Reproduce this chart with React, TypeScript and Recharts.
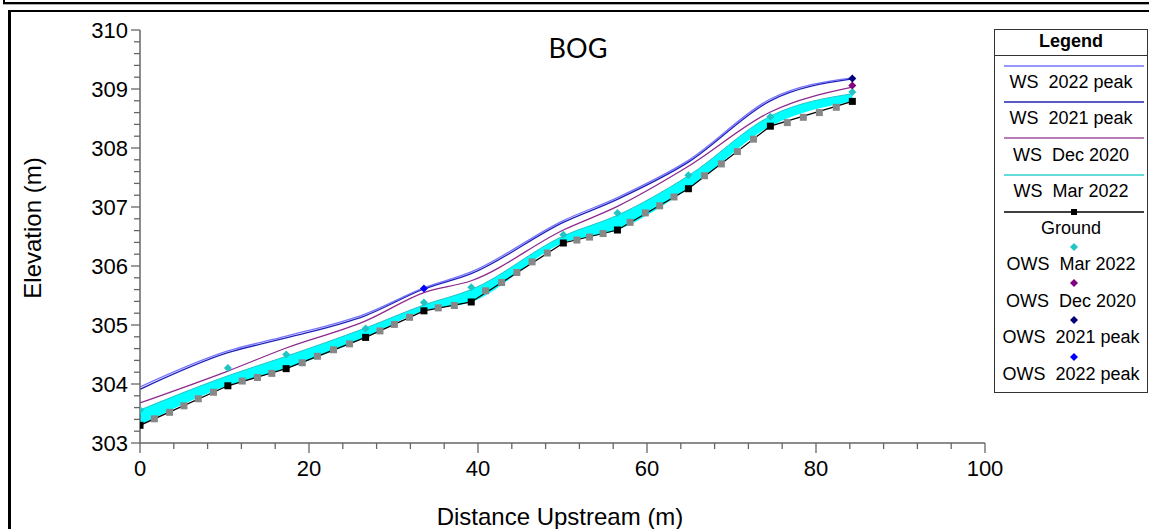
import React from "react";
import { ComposedChart, XAxis, YAxis, Area, Line, Scatter } from "recharts";

// main cross sections (distance upstream, m)
const distance = [0, 10.4, 17.3, 26.7, 33.6, 39.2, 50.1, 56.5, 64.9, 74.6, 84.3];
const ground = [303.3, 303.97, 304.26, 304.79, 305.24, 305.39, 306.39, 306.61, 307.31, 308.37, 308.79];
const wsMar2022 = [303.56, 304.14, 304.47, 304.95, 305.34, 305.6, 306.51, 306.86, 307.53, 308.54, 308.92];
const wsDec2020 = [303.68, 304.22, 304.61, 305.07, 305.55, 305.75, 306.61, 307.01, 307.69, 308.61, 309.03];
const ws2021Peak = [303.91, 304.53, 304.78, 305.16, 305.61, 305.87, 306.74, 307.13, 307.76, 308.8, 309.17];
const ws2022Peak = [303.95, 304.56, 304.81, 305.19, 305.63, 305.9, 306.77, 307.16, 307.79, 308.83, 309.19];

// interpolated sections (grey squares on the ground line)
const interpDistance = [
  1.7, 3.5, 5.2, 6.9, 8.7, 12.1, 13.9, 15.6, 19.2, 21.0, 22.9, 24.8, 28.4, 30.1, 31.9, 35.3, 37.2,
  40.9, 42.8, 44.6, 46.4, 48.2, 51.7, 53.2, 54.8, 58.0, 59.8, 61.5, 63.2, 66.8, 68.8, 70.7, 72.6,
  76.6, 78.5, 80.4, 82.4,
];
const interpGround = [
  303.41, 303.52, 303.63, 303.75, 303.86, 304.05, 304.11, 304.18, 304.36, 304.47, 304.58, 304.68,
  304.9, 305.01, 305.13, 305.29, 305.33, 305.58, 305.72, 305.89, 306.07, 306.22, 306.44, 306.49,
  306.55, 306.74, 306.9, 307.02, 307.17, 307.53, 307.73, 307.94, 308.15, 308.43, 308.52, 308.6,
  308.69,
];

// observed water surface
const owsMarDist = [0, 10.4, 17.3, 26.7, 33.6, 39.2, 50.1, 56.5, 64.9, 74.6, 84.3];
const owsMarElev = [303.56, 304.27, 304.5, 304.94, 305.38, 305.64, 306.53, 306.9, 307.54, 308.53, 308.95];
const owsDecDist = [84.3];
const owsDecElev = [309.06];
const ows2021Dist = [84.3];
const ows2021Elev = [309.18];
const ows2022Dist = [33.6];
const ows2022Elev = [305.62];

const yTicks = [
  303, 303.2, 303.4, 303.6, 303.8, 304, 304.2, 304.4, 304.6, 304.8, 305, 305.2, 305.4, 305.6,
  305.8, 306, 306.2, 306.4, 306.6, 306.8, 307, 307.2, 307.4, 307.6, 307.8, 308, 308.2, 308.4,
  308.6, 308.8, 309, 309.2, 309.4, 309.6, 309.8, 310,
];
const xTicks = [0, 4, 8, 12, 16, 20, 24, 28, 32, 36, 40, 44, 48, 52, 56, 60, 64, 68, 72, 76, 80, 84, 88, 92, 96, 100];

const sections = distance.map((d, i) => ({
  d,
  ground: ground[i],
  band: [ground[i], wsMar2022[i]],
  wsMar: wsMar2022[i],
  wsDec: wsDec2020[i],
  ws2021: ws2021Peak[i],
  ws2022: ws2022Peak[i],
}));
const toPoints = (ds: number[], es: number[]) => ds.map((d, i) => ({ d, e: es[i] }));

const AXIS = "#666666";
const FONT = "'Liberation Sans', Arial, sans-serif";
const C = {
  band: "#00ffff",
  mar: "#22c4c4",
  dec: "#8e2a8e",
  p2021: "#2222b8",
  p2022: "#7474ff",
  owsDec: "#800080",
  ows2021: "#000080",
  ows2022: "#0000ff",
  interp: "#888888",
};

const YTick = (props: any) => {
  const { x, y, payload } = props;
  const major = Math.abs(payload.value - Math.round(payload.value)) < 1e-6;
  return (
    <g>
      <line x1={x - (major ? 9 : 6)} x2={x} y1={y} y2={y} stroke={AXIS} strokeWidth={1.3} />
      {major && (
        <text x={x - 12} y={y} dy="0.36em" textAnchor="end" fontSize={22} fontFamily={FONT} fill="#000">
          {Math.round(payload.value)}
        </text>
      )}
    </g>
  );
};

const XTick = (props: any) => {
  const { x, y, payload } = props;
  const major = payload.value % 20 === 0;
  return (
    <g>
      <line x1={x} x2={x} y1={y} y2={y + (major ? 10 : 6)} stroke={AXIS} strokeWidth={1.3} />
      {major && (
        <text x={x} y={y + 25} dy="0.36em" textAnchor="middle" fontSize={22} fontFamily={FONT} fill="#000">
          {payload.value}
        </text>
      )}
    </g>
  );
};

const diamond = (fill: string) => (p: any) => (
  <polygon
    points={`${p.cx},${p.cy - 4} ${p.cx + 4},${p.cy} ${p.cx},${p.cy + 4} ${p.cx - 4},${p.cy}`}
    fill={fill}
  />
);
const greySquare = (p: any) => <rect x={p.cx - 3.5} y={p.cy - 3.5} width={7} height={7} fill={C.interp} />;
const groundDot = (p: any) => (
  <rect key={`g${p.index}`} x={p.cx - 3.5} y={p.cy - 3.5} width={7} height={7} fill="#000" />
);

const legendRows = [
  { kind: "line", color: C.p2022, y: 66, label: "WS  2022 peak", ty: 82 },
  { kind: "line", color: C.p2021, y: 102, label: "WS  2021 peak", ty: 118 },
  { kind: "line", color: "#a050a0", y: 138, label: "WS  Dec 2020", ty: 155 },
  { kind: "line", color: "#30d0d0", y: 175, label: "WS  Mar 2022", ty: 191 },
  { kind: "ground", color: "#000", y: 212, label: "Ground", ty: 228 },
  { kind: "dia", color: C.mar, y: 247, label: "OWS  Mar 2022", ty: 264 },
  { kind: "dia", color: C.owsDec, y: 283, label: "OWS  Dec 2020", ty: 301 },
  { kind: "dia", color: C.ows2021, y: 320, label: "OWS  2021 peak", ty: 337 },
  { kind: "dia", color: C.ows2022, y: 357, label: "OWS  2022 peak", ty: 374 },
];

const LegendBox = () => (
  <div
    style={{
      position: "absolute",
      left: 994,
      top: 29,
      width: 152,
      height: 362,
      border: "1px solid #333",
      background: "#fff",
      fontFamily: FONT,
    }}
  >
    <div style={{ position: "absolute", left: 0, right: 0, top: 1, textAlign: "center", fontWeight: "bold", fontSize: 18 }}>
      Legend
    </div>
    <div style={{ position: "absolute", left: 0, right: 0, top: 25, borderTop: "1px solid #333" }} />
    <svg width={152} height={362} style={{ position: "absolute", left: 0, top: 0 }}>
      {legendRows.map((r) => {
        const y = r.y - 30;
        if (r.kind === "line") return <line key={r.label} x1={9} x2={149} y1={y} y2={y} stroke={r.color} strokeWidth={1.5} />;
        if (r.kind === "ground")
          return (
            <g key={r.label}>
              <line x1={9} x2={149} y1={y} y2={y} stroke="#000" strokeWidth={1.5} />
              <rect x={76} y={y - 3} width={6} height={6} fill="#000" />
            </g>
          );
        return (
          <polygon key={r.label} points={`79,${y - 4} 83,${y} 79,${y + 4} 75,${y}`} fill={r.color} />
        );
      })}
    </svg>
    {legendRows.map((r) => (
      <div
        key={r.label + "t"}
        style={{
          position: "absolute",
          left: 0,
          right: 0,
          top: r.ty - 30 - 10,
          textAlign: "center",
          fontSize: 18,
          lineHeight: "20px",
          whiteSpace: "pre",
        }}
      >
        {r.label}
      </div>
    ))}
  </div>
);

export default function App() {
  return (
    <div
      style={{
        position: "absolute",
        left: 0,
        top: 0,
        width: 1149,
        height: 529,
        background: "#fff",
        overflow: "hidden",
        fontFamily: FONT,
      }}
    >
      <div
        style={{
          position: "absolute",
          left: 3,
          top: -20,
          width: 1200,
          height: 22,
          borderLeft: "2px solid #000",
          borderBottom: "2px solid #000",
          boxShadow: "0 1px 0 #aaa",
        }}
      />
      <div
        style={{
          position: "absolute",
          left: 8,
          top: 10,
          width: 1200,
          height: 600,
          borderLeft: "3px solid #000",
          borderTop: "2px solid #000",
        }}
      />
      <div style={{ position: "absolute", left: 0, top: 0 }}>
        <ComposedChart
          width={1149}
          height={529}
          data={sections}
          margin={{ top: 30, right: 164, left: 60, bottom: 46 }}
        >
          <XAxis
            dataKey="d"
            type="number"
            domain={[0, 100]}
            ticks={xTicks}
            interval={0}
            height={40}
            tickSize={0}
            tickMargin={0}
            tick={<XTick />}
            axisLine={{ stroke: AXIS, strokeWidth: 1.5 }}
            allowDataOverflow
          />
          <YAxis
            type="number"
            domain={[303, 310]}
            ticks={yTicks}
            interval={0}
            width={80}
            tickSize={0}
            tickMargin={0}
            tick={<YTick />}
            axisLine={{ stroke: AXIS, strokeWidth: 1.5 }}
            allowDataOverflow
          />
          <Area
            dataKey="band"
            type="monotone"
            fill={C.band}
            fillOpacity={1}
            stroke="none"
            isAnimationActive={false}
          />
          <Line dataKey="wsMar" type="monotone" stroke={C.mar} strokeWidth={1} dot={false} isAnimationActive={false} />
          <Line dataKey="ground" type="linear" stroke="#000" strokeWidth={1.3} dot={groundDot} isAnimationActive={false} />
          <Scatter data={toPoints(interpDistance, interpGround)} dataKey="e" shape={greySquare} isAnimationActive={false} />
          <Line dataKey="wsDec" type="monotone" stroke={C.dec} strokeWidth={1.3} dot={false} isAnimationActive={false} />
          <Line dataKey="ws2022" type="monotone" stroke={C.p2022} strokeWidth={1.3} dot={false} isAnimationActive={false} />
          <Line dataKey="ws2021" type="monotone" stroke={C.p2021} strokeWidth={1.3} dot={false} isAnimationActive={false} />
          <Scatter data={toPoints(owsMarDist, owsMarElev)} dataKey="e" shape={diamond(C.mar)} isAnimationActive={false} />
          <Scatter data={toPoints(owsDecDist, owsDecElev)} dataKey="e" shape={diamond(C.owsDec)} isAnimationActive={false} />
          <Scatter data={toPoints(ows2021Dist, ows2021Elev)} dataKey="e" shape={diamond(C.ows2021)} isAnimationActive={false} />
          <Scatter data={toPoints(ows2022Dist, ows2022Elev)} dataKey="e" shape={diamond(C.ows2022)} isAnimationActive={false} />
        </ComposedChart>
      </div>
      <div
        style={{
          position: "absolute",
          left: 478,
          width: 200,
          top: 31,
          textAlign: "center",
          fontFamily: "Lato, 'Open Sans', sans-serif",
          fontSize: 27,
          lineHeight: "34px",
        }}
      >
        BOG
      </div>
      <div
        style={{
          position: "absolute",
          left: 33,
          top: 228,
          transform: "translate(-50%, -50%) rotate(-90deg)",
          fontSize: 24,
          whiteSpace: "nowrap",
        }}
      >
        Elevation (m)
      </div>
      <div
        style={{
          position: "absolute",
          left: 360,
          width: 400,
          top: 503,
          textAlign: "center",
          fontSize: 24,
          lineHeight: "28px",
          whiteSpace: "nowrap",
        }}
      >
        Distance Upstream (m)
      </div>
      <LegendBox />
    </div>
  );
}
